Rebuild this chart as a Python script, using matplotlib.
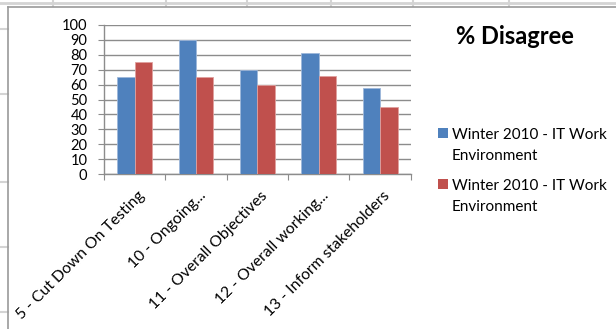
import matplotlib
matplotlib.use("Agg")
import matplotlib.pyplot as plt
from matplotlib.lines import Line2D
from matplotlib.patches import Rectangle
import numpy as np

categories = [
    "5 - Cut Down On Testing",
    "10 - Ongoing...",
    "11 - Overall Objectives",
    "12 - Overall working...",
    "13 - Inform stakeholders",
]
series_names = ["Winter 2010 - IT Work\nEnvironment", "Winter 2010 - IT Work\nEnvironment"]
series_a = [65, 90, 70, 81, 58]
series_b = [75, 65, 60, 66, 45]
y_ticks = list(range(0, 101, 10))

BLUE = "#4F81BD"
RED = "#C0504D"
GRID = "#8c8c8c"
FONT = ["Lato", "DejaVu Sans"]

W, H = 616, 329
fig = plt.figure(figsize=(W / 100, H / 100), dpi=100)
fig.patch.set_facecolor("white")

def fx(px):
    return px / W

def fy(py):
    return 1 - py / H

# spreadsheet cells behind the chart object
sheet = "#d4d4d4"
fig.add_artist(Line2D([0, 1], [fy(3), fy(3)], color=sheet, lw=2.0, transform=fig.transFigure))
for x in [53, 166, 247, 331, 413, 509]:
    fig.add_artist(Line2D([fx(x), fx(x)], [fy(0), fy(6)], color=sheet, lw=1.5, transform=fig.transFigure))
for y in [29, 94, 182, 247, 312]:
    fig.add_artist(Line2D([0, fx(8)], [fy(y), fy(y)], color=sheet, lw=1.5, transform=fig.transFigure))

# chart object border (top and left visible)
fig.add_artist(Line2D([fx(8), 1], [fy(6.5), fy(6.5)], color="#9a9a9a", lw=1.2, transform=fig.transFigure))
fig.add_artist(Line2D([fx(8), fx(8)], [fy(6.5), 0], color="#9a9a9a", lw=1.2, transform=fig.transFigure))

ax = fig.add_axes([fx(104), fy(174), fx(410.7) - fx(104), fy(25) - fy(174)])
x = np.arange(len(categories))
bw = 0.285
ax.bar(x - bw / 2, series_a, width=bw, color=BLUE, edgecolor="#9db7da", linewidth=0.6, zorder=3)
ax.bar(x + bw / 2, series_b, width=bw, color=RED, edgecolor="#e0a09e", linewidth=0.6, zorder=3)

ax.set_xlim(-0.5, len(categories) - 0.5)
ax.set_ylim(0, 100)
ax.set_yticks(y_ticks)
ax.set_yticklabels([str(t) for t in y_ticks], fontsize=10.5, family=FONT)
ax.yaxis.grid(True, color=GRID, lw=1.0, zorder=0)
ax.set_axisbelow(True)

for s in ["top", "right"]:
    ax.spines[s].set_visible(False)
ax.spines["left"].set_color(GRID)
ax.spines["bottom"].set_color(GRID)
ax.spines["left"].set_linewidth(1.0)
ax.spines["bottom"].set_linewidth(1.0)

ax.tick_params(axis="y", length=4, color=GRID, pad=8, labelcolor="black")
ax.set_xticks(np.arange(-0.5, len(categories) + 0.5, 1.0))
ax.set_xticklabels([])
ax.tick_params(axis="x", length=4, color=GRID)

for i, c in enumerate(categories):
    ax.annotate(c, xy=(i, 0), xycoords="data", xytext=(5.5, -14), textcoords="offset points",
                rotation=45, rotation_mode="anchor", ha="right", va="center",
                fontsize=11.3, family=FONT, color="black", annotation_clip=False)

fig.text(fx(515), fy(37), "% Disagree", ha="center", va="center",
         fontsize=17, fontweight="bold", family=FONT)

# legend: square swatch beside a two-line series name
legend_colors = [BLUE, RED]
entry_tops = [128, 179]
for name, col, top in zip(series_names, legend_colors, entry_tops):
    fig.add_artist(Rectangle((fx(438), fy(top + 9.5)), fx(9.5), fy(top) - fy(top + 9.5),
                             facecolor=col, edgecolor="none", transform=fig.transFigure))
    for k, line in enumerate(name.split("\n")):
        fig.text(fx(452), fy(top + 11 + 21 * k), line, ha="left", va="baseline",
                 fontsize=11, family=FONT, color="black")

fig.savefig("out.png", dpi=100, facecolor="white")
